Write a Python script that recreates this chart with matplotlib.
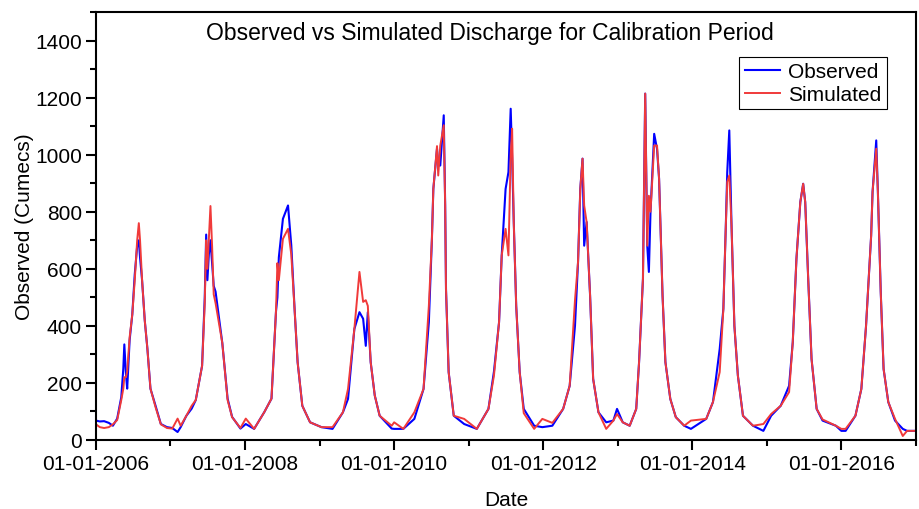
import numpy as np
import pandas as pd
import matplotlib
matplotlib.use("Agg")
import matplotlib.pyplot as plt
import matplotlib.dates as mdates
from matplotlib.ticker import MultipleLocator

plt.rcParams['font.family'] = ['Liberation Sans', 'DejaVu Sans']

# daily discharge (date, observed, simulated)
dates = [
    "2006-01-01", "2006-01-20", "2006-02-10", "2006-03-05", "2006-03-25", "2006-04-15",
    "2006-05-05", "2006-05-15", "2006-05-20", "2006-05-28", "2006-06-03", "2006-06-15",
    "2006-06-28", "2006-07-10", "2006-07-22", "2006-07-30", "2006-08-05", "2006-08-15",
    "2006-08-28", "2006-09-10", "2006-09-25", "2006-10-20", "2006-11-15", "2006-12-15",
    "2007-01-10", "2007-02-05", "2007-02-20", "2007-03-20", "2007-04-15", "2007-05-05",
    "2007-06-05", "2007-06-18", "2007-06-25", "2007-07-01", "2007-07-08", "2007-07-16",
    "2007-07-24", "2007-08-01", "2007-08-10", "2007-09-12", "2007-10-08", "2007-10-30",
    "2007-12-10", "2008-01-05", "2008-02-15", "2008-04-05", "2008-05-10", "2008-06-01",
    "2008-06-08", "2008-06-15", "2008-07-05", "2008-07-30", "2008-08-15", "2008-09-01",
    "2008-09-15", "2008-10-08", "2008-11-15", "2009-01-10", "2009-03-05", "2009-04-25",
    "2009-05-20", "2009-06-20", "2009-07-15", "2009-08-02", "2009-08-15", "2009-08-25",
    "2009-09-08", "2009-09-28", "2009-10-22", "2009-12-20", "2010-01-01", "2010-02-15",
    "2010-04-10", "2010-05-25", "2010-06-20", "2010-07-05", "2010-07-12", "2010-07-30",
    "2010-08-05", "2010-08-15", "2010-09-01", "2010-09-08", "2010-09-12", "2010-09-25",
    "2010-10-20", "2010-12-10", "2011-02-10", "2011-04-08", "2011-05-05", "2011-05-30",
    "2011-06-12", "2011-07-01", "2011-07-15", "2011-07-26", "2011-08-02", "2011-08-10",
    "2011-08-22", "2011-09-08", "2011-09-28", "2011-11-18", "2011-12-28", "2012-02-15",
    "2012-04-08", "2012-05-10", "2012-06-05", "2012-06-20", "2012-07-01", "2012-07-12",
    "2012-07-20", "2012-08-01", "2012-08-18", "2012-09-02", "2012-09-28", "2012-11-05",
    "2012-12-10", "2012-12-28", "2013-01-25", "2013-02-28", "2013-04-01", "2013-04-15",
    "2013-05-04", "2013-05-15", "2013-05-25", "2013-06-02", "2013-06-10", "2013-06-28",
    "2013-07-12", "2013-07-22", "2013-08-08", "2013-08-22", "2013-09-15", "2013-10-12",
    "2013-11-22", "2013-12-25", "2014-03-10", "2014-04-12", "2014-05-15", "2014-06-02",
    "2014-06-14", "2014-06-21", "2014-07-01", "2014-07-12", "2014-07-26", "2014-08-12",
    "2014-09-06", "2014-10-25", "2014-12-15", "2015-01-22", "2015-03-10", "2015-04-20",
    "2015-05-08", "2015-05-26", "2015-06-14", "2015-06-28", "2015-07-08", "2015-07-22",
    "2015-08-08", "2015-09-02", "2015-10-01", "2015-12-05", "2016-01-01", "2016-01-22",
    "2016-03-10", "2016-04-08", "2016-05-01", "2016-05-26", "2016-06-02", "2016-06-20",
    "2016-06-28", "2016-07-12", "2016-07-26", "2016-08-18", "2016-09-20", "2016-10-28",
    "2016-11-18", "2016-12-31",
]

observed = [
    68, 65, 66, 60, 50, 75,
    150, 250, 335, 230, 180, 350,
    440, 580, 680, 700, 640, 560,
    420, 320, 180, 120, 56, 45,
    42, 28, 45, 85, 110, 140,
    260, 500, 720, 560, 650, 700,
    620, 540, 520, 340, 145, 81,
    40, 56, 39, 98, 145, 450,
    500, 640, 775, 822, 682, 448,
    273, 120, 62, 45, 39, 97,
    144, 389, 448, 425, 330, 448,
    273, 156, 85, 40, 39, 39,
    74, 179, 413, 705, 880, 1021,
    962, 962, 1138, 822, 530, 238,
    85, 56, 39, 109, 240, 413,
    647, 880, 939, 1161, 990, 764,
    470, 238, 109, 50, 45, 50,
    109, 190, 400, 624, 880, 986,
    681, 764, 506, 214, 97, 62,
    68, 109, 62, 50, 109, 273,
    565, 1214, 681, 589, 800, 1073,
    1020, 916, 506, 273, 144, 80,
    50, 39, 74, 133, 319, 460,
    751, 939, 1085, 751, 400, 226,
    85, 50, 32, 85, 120, 190,
    343, 635, 834, 898, 834, 576,
    284, 109, 68, 50, 32, 32,
    85, 179, 400, 716, 870, 1050,
    870, 519, 249, 133, 68, 39,
    32, 32,
]

simulated = [
    55, 45, 42, 45, 55, 70,
    140, 180, 220, 220, 240, 360,
    440, 560, 700, 760, 700, 560,
    420, 320, 180, 115, 55, 42,
    40, 75, 50, 85, 120, 140,
    260, 480, 700, 600, 700, 820,
    680, 510, 480, 340, 140, 80,
    42, 75, 39, 98, 145, 450,
    620, 560, 705, 740, 650, 448,
    273, 120, 62, 45, 45, 97,
    179, 389, 589, 484, 490, 470,
    273, 156, 85, 50, 62, 39,
    97, 179, 470, 705, 880, 1030,
    927, 1032, 1103, 822, 530, 238,
    85, 74, 39, 109, 226, 413,
    647, 740, 647, 997, 1091, 764,
    470, 238, 94, 39, 74, 60,
    109, 190, 490, 624, 880, 986,
    822, 764, 506, 214, 97, 39,
    68, 91, 62, 50, 109, 273,
    565, 1214, 681, 856, 800, 1032,
    1032, 916, 506, 273, 144, 80,
    50, 68, 74, 133, 238, 460,
    751, 905, 927, 751, 400, 226,
    85, 50, 56, 91, 120, 168,
    343, 635, 834, 898, 834, 576,
    284, 109, 72, 50, 39, 39,
    85, 179, 400, 716, 870, 1021,
    870, 519, 249, 133, 74, 14,
    32, 32,
]

df = pd.DataFrame({"date": pd.to_datetime(dates), "obs": observed, "sim": simulated})

fig = plt.figure(figsize=(9.2, 5.1), dpi=100)
ax = fig.add_axes([0.1043, 0.1353, 0.8914, 0.8392])

ax.plot(df["date"], df["obs"], color="#0000FF", lw=1.5, label="Observed")
ax.plot(df["date"], df["sim"], color="#F03A3A", lw=1.4, label="Simulated")

ax.set_xlim(pd.Timestamp("2006-01-01"), pd.Timestamp("2017-01-01"))
ax.set_ylim(0, 1500)

ax.xaxis.set_major_locator(mdates.YearLocator(2))
ax.xaxis.set_minor_locator(mdates.YearLocator(1))
ax.xaxis.set_major_formatter(mdates.DateFormatter("%d-%m-%Y"))
ax.yaxis.set_major_locator(MultipleLocator(200))
ax.yaxis.set_minor_locator(MultipleLocator(100))

ax.tick_params(which="major", direction="out", length=7, width=1.5, labelsize=15, pad=3)
ax.tick_params(which="minor", direction="out", length=4, width=1.5)
for s in ax.spines.values():
    s.set_linewidth(1.5)

ax.set_xlabel("Date", fontsize=15, labelpad=12)
ax.set_ylabel("Observed (Cumecs)", fontsize=15, labelpad=1)
ax.text(0.48, 0.953, "Observed vs Simulated Discharge for Calibration Period",
        transform=ax.transAxes, ha="center", va="center", fontsize=16.5)

leg = ax.legend(loc="upper right", bbox_to_anchor=(0.977, 0.92), fontsize=15,
                fancybox=False, framealpha=1, edgecolor="black", handlelength=1.7,
                borderpad=0.25, labelspacing=0.2, handletextpad=0.4)
leg.get_frame().set_linewidth(0.8)

fig.savefig("out.png", dpi=100)
